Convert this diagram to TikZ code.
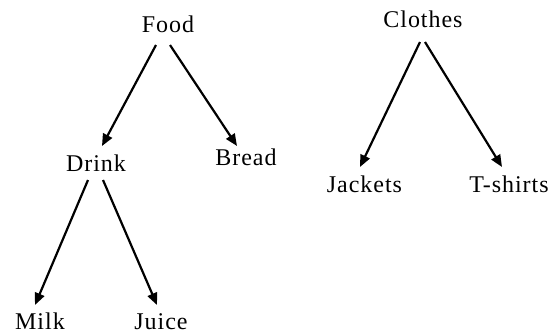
\documentclass[tikz,border=0pt]{standalone}
\usepackage{fontspec}
\setmainfont{Liberation Serif}[LetterSpace=4]
\usetikzlibrary{calc,arrows.meta}
\tikzset{
  lbl/.style={anchor=base, inner sep=0pt, font=\fontsize{24}{27}\selectfont},
  link/.style={line width=2.2pt, -{Triangle[length=12pt,width=10pt]}}
}
\begin{document}
\begin{tikzpicture}[x=1pt,y=-1pt]
\useasboundingbox (0,0) rectangle (557,333);
% labels, placed on their baselines
\node[lbl] (food)    at (168,32)  {Food};
\node[lbl] (drink)   at (96,171)  {Drink};
\node[lbl] (bread)   at (246,165) {Bread};
\node[lbl] (milk)    at (40,329)  {Milk};
\node[lbl] (juice)   at (161,329) {Juice};
\node[lbl] (clothes) at (423,27)  {Clothes};
\node[lbl] (jackets) at (364.5,192) {Jackets};
\node[lbl] (tshirts) at (509,192) {T-shirts};
% tree edges
\draw[link] ($(food.base)+(-12,13)$) -- ($(drink.base)+(6,-25)$);
\draw[link] ($(food.base)+(2,13)$) -- ($(bread.base)+(-9,-19)$);
\draw[link] ($(drink.base)+(-8,9)$) -- ($(milk.base)+(-5,-24)$);
\draw[link] ($(drink.base)+(7,9)$) -- ($(juice.base)+(-4,-24)$);
\draw[link] ($(clothes.base)+(-3,15)$) -- ($(jackets.base)+(-4.5,-25)$);
\draw[link] ($(clothes.base)+(2,15)$) -- ($(tshirts.base)+(-7,-25)$);
\end{tikzpicture}
\end{document}
